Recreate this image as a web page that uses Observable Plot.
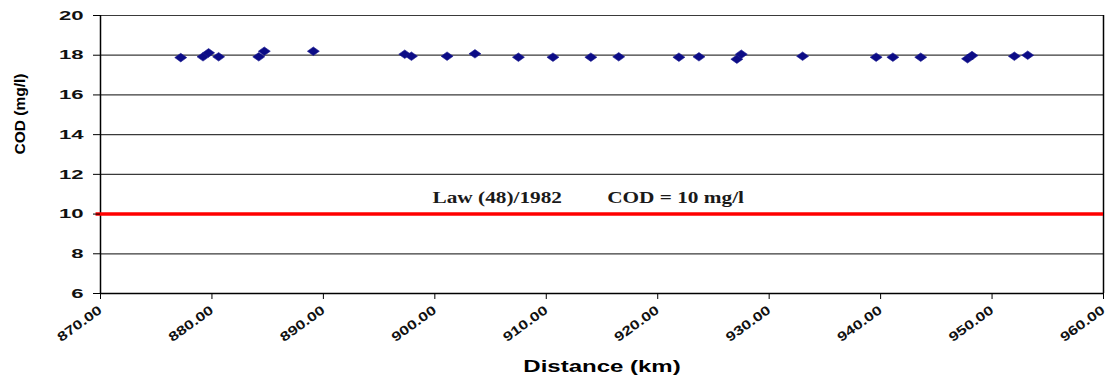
<!DOCTYPE html>
<html>
<head>
<meta charset="utf-8">
<script src="https://cdn.jsdelivr.net/npm/d3@7"></script>
<script src="https://cdn.jsdelivr.net/npm/@observablehq/plot@0.6"></script>
<style>
  html, body { margin: 0; padding: 0; background: #fff; }
  #chart { width: 1111px; height: 378px; }
</style>
</head>
<body>
<div id="chart"></div>
<script>
// Data
const distanceKm = [877.2, 879.2, 879.7, 880.6, 884.2, 884.7, 889.1, 897.3, 897.9, 901.1, 903.6, 907.5, 910.6, 914.0, 916.5, 921.9, 923.7, 927.1, 927.5, 933.0, 939.6, 941.1, 943.6, 947.8, 948.2, 952.0, 953.2];
const codValues  = [17.88, 17.92, 18.12, 17.92, 17.92, 18.2, 18.2, 18.05, 17.95, 17.95, 18.07, 17.9, 17.9, 17.9, 17.92, 17.9, 17.92, 17.8, 18.05, 17.95, 17.9, 17.9, 17.9, 17.82, 17.98, 17.95, 18.0];
const yTicks = [6, 8, 10, 12, 14, 16, 18, 20];
const xTicks = [870, 880, 890, 900, 910, 920, 930, 940, 950, 960];
const lawLimit = [10];
const annotLabels = ["Law (48)/1982", "COD = 10 mg/l"];
const annotX = [905.6, 921.6];
const annotY = [10.8, 10.8];

const points = distanceKm.map((d, i) => ({x: d, y: codValues[i]}));
const annots = annotLabels.map((t, i) => ({t, x: annotX[i], y: annotY[i]}));

const wideDiamond = {
  draw(ctx) {
    const w = 6, h = 4.3;
    ctx.moveTo(-w, 0);
    ctx.lineTo(0, -h);
    ctx.lineTo(w, 0);
    ctx.lineTo(0, h);
    ctx.closePath();
  }
};

const chart = Plot.plot({
  width: 1111,
  height: 378,
  marginLeft: 100,
  marginRight: 8,
  marginTop: 15,
  marginBottom: 85,
  style: {fontFamily: "'Liberation Sans', Arial, sans-serif", background: "#fff"},
  x: {domain: [870, 960]},
  y: {domain: [6, 20]},
  marks: [
    Plot.ruleY(yTicks.filter(d => d > 6), {y: d => d, stroke: "#3a3a3a", strokeWidth: 1.2}),
    Plot.ruleY([6], {stroke: "#000", strokeWidth: 1.5}),
    Plot.ruleX([870], {stroke: "#000", strokeWidth: 1.5}),
    Plot.ruleX([960], {stroke: "#000", strokeWidth: 1.5}),
    Plot.ruleY(lawLimit, {y: d => d, stroke: "#ff0000", strokeWidth: 3.5, x1: 869.6, x2: 960}),
    Plot.text(annots, {x: "x", y: "y", text: "t", fontFamily: "'Liberation Serif', 'Times New Roman', serif", fontWeight: "bold", fontSize: 16, fill: "#1a1a1a", className: "ann"}),
    Plot.dot(points, {x: "x", y: "y", symbol: wideDiamond, fill: "#0c0c86", stroke: "#1a1a90", strokeWidth: 0.6}),
    Plot.axisY({ticks: yTicks, tickSize: 7, tickPadding: 10, fontSize: 13, fontWeight: "bold", label: null, stroke: "#000", fill: "#111", className: "yax"}),
    Plot.axisX({ticks: xTicks, tickSize: 6, tickPadding: 9, tickRotate: -36, fontSize: 13, fontWeight: "bold", tickFormat: d => d.toFixed(2), label: null, fill: "#111", className: "xax"}),
    Plot.text(["COD (mg/l)"], {frameAnchor: "left", dx: -80, rotate: -90, fontSize: 15.5, fontWeight: "bold", fill: "#000", className: "ytitle"}),
    Plot.text(["Distance (km)"], {frameAnchor: "bottom", dy: 78, dx: 0, fontSize: 16, fontWeight: "bold", fill: "#000", className: "xtitle"})
  ]
});
document.getElementById("chart").appendChild(chart);

// The reference is horizontally stretched: widen glyphs to match.
function stretch(selector, factor) {
  d3.select(chart).selectAll(selector).each(function () {
    const L = this.getComputedTextLength();
    this.setAttribute("textLength", L * factor);
    this.setAttribute("lengthAdjust", "spacingAndGlyphs");
  });
}
stretch(".ann text", 1.33);
stretch(".xtitle text", 1.5);
stretch(".yax text", 1.7);
stretch(".xax text", 1.3);
</script>
</body>
</html>
